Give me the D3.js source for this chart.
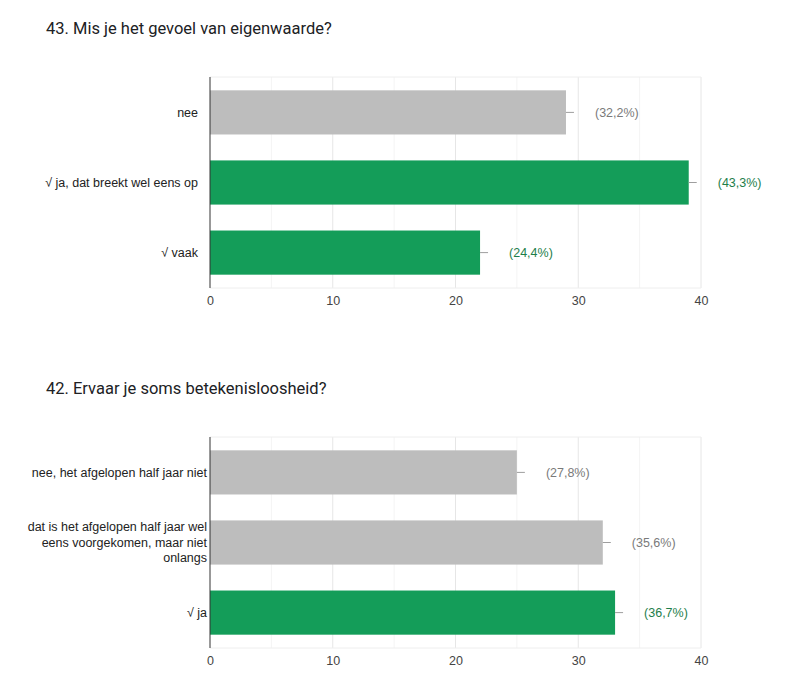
<!DOCTYPE html>
<html>
<head>
<meta charset="utf-8">
<script src="https://cdnjs.cloudflare.com/ajax/libs/d3/7.8.5/d3.min.js"></script>
<style>
  body { margin: 0; background: #fff; }
  svg { display: block; }
</style>
</head>
<body>
<div id="chart"></div>
<script>
// chart 1 data
var titles1 = "43. Mis je het gevoel van eigenwaarde?";
var categories1 = ["nee", "\u221A ja, dat breekt wel eens op", "\u221A vaak"];
var values1 = [29, 39, 22];
var percents1 = ["(32,2%)", "(43,3%)", "(24,4%)"];
var correct1 = [false, true, true];

// chart 2 data
var titles2 = "42. Ervaar je soms betekenisloosheid?";
var categories2 = ["nee, het afgelopen half jaar niet",
  "dat is het afgelopen half jaar wel|eens voorgekomen, maar niet|onlangs",
  "\u221A ja"];
var values2 = [25, 32, 33];
var percents2 = ["(27,8%)", "(35,6%)", "(36,7%)"];
var correct2 = [false, false, true];

var majorTicks = [0, 10, 20, 30, 40];
var minorTicks = [5, 15, 25, 35];

var width = 802, height = 691;
var svg = d3.select("#chart").append("svg")
  .attr("width", width)
  .attr("height", height);

drawChart(0, 198, titles1, categories1, values1, percents1, correct1);
drawChart(360, 207, titles2, categories2, values2, percents2, correct2);

/**
 * draw one horizontal bar chart, offset vertically by top
 */
function drawChart(top, labelX, title, cats, vals, pcts, correct) {
  var g = svg.append("g").attr("transform", "translate(0," + top + ")");
  var plotTop = 77, plotBottom = 288;

  g.append("text")
    .attr("x", 46)
    .attr("y", 34)
    .attr("font-family", "Roboto, sans-serif")
    .attr("font-size", 16.5)
    .attr("fill", "#202124")
    .text(title);

  var x = d3.scaleLinear().domain([0, 40]).range([210, 701]);
  var y = d3.scaleBand()
    .domain(cats)
    .range([plotTop, plotBottom])
    .paddingInner(0.37)
    .paddingOuter(0.19);

  // minor grid
  g.selectAll(".minor").data(minorTicks).enter().append("line")
    .attr("x1", function(d) { return x(d); })
    .attr("x2", function(d) { return x(d); })
    .attr("y1", plotTop).attr("y2", plotBottom)
    .attr("stroke", "#f4f4f4");

  // major grid
  g.selectAll(".major").data(majorTicks.slice(1)).enter().append("line")
    .attr("x1", function(d) { return x(d); })
    .attr("x2", function(d) { return x(d); })
    .attr("y1", plotTop).attr("y2", plotBottom)
    .attr("stroke", "#e6e6e6");

  // top + bottom border
  g.append("line").attr("x1", x(0)).attr("x2", x(40))
    .attr("y1", plotTop).attr("y2", plotTop).attr("stroke", "#eeeeee");
  g.append("line").attr("x1", x(0)).attr("x2", x(40))
    .attr("y1", plotBottom).attr("y2", plotBottom).attr("stroke", "#eeeeee");

  // bars
  g.selectAll("rect.bar").data(vals).enter().append("rect")
    .attr("class", "bar")
    .attr("x", x(0))
    .attr("y", function(d, i) { return y(cats[i]); })
    .attr("width", function(d) { return x(d) - x(0); })
    .attr("height", y.bandwidth())
    .attr("fill", function(d, i) { return correct[i] ? "#149d59" : "#bdbdbd"; });

  // small leader line + percent label
  g.selectAll("line.lead").data(vals).enter().append("line")
    .attr("x1", function(d) { return x(d); })
    .attr("x2", function(d) { return x(d) + 8; })
    .attr("y1", function(d, i) { return y(cats[i]) + y.bandwidth() / 2; })
    .attr("y2", function(d, i) { return y(cats[i]) + y.bandwidth() / 2; })
    .attr("stroke", "#9e9e9e");

  g.selectAll("text.pct").data(vals).enter().append("text")
    .attr("x", function(d) { return x(d) + 29; })
    .attr("y", function(d, i) { return y(cats[i]) + y.bandwidth() / 2; })
    .attr("dy", "0.35em")
    .attr("font-family", "Liberation Sans, Arial, sans-serif")
    .attr("font-size", 12.5)
    .attr("fill", function(d, i) { return correct[i] ? "#1e7e4a" : "#7a7a7a"; })
    .text(function(d, i) { return pcts[i]; });

  // category labels (multi-line via |)
  cats.forEach(function(c) {
    var lines = c.split("|");
    var cy = y(c) + y.bandwidth() / 2;
    var t = g.append("text")
      .attr("text-anchor", "end")
      .attr("font-family", "Liberation Sans, Arial, sans-serif")
      .attr("font-size", 12.5)
      .attr("fill", "#222");
    lines.forEach(function(l, i) {
      t.append("tspan")
        .attr("x", labelX)
        .attr("y", cy + (i - (lines.length - 1) / 2) * 15.5)
        .attr("dy", "0.35em")
        .text(l);
    });
  });

  // x axis tick labels
  var axis = d3.axisBottom(x).tickValues(majorTicks).tickSize(0).tickPadding(8);
  var ax = g.append("g")
    .attr("transform", "translate(0," + plotBottom + ")")
    .call(axis);
  ax.select(".domain").remove();
  ax.selectAll("text")
    .attr("font-family", "Liberation Sans, Arial, sans-serif")
    .attr("font-size", 12.5)
    .attr("fill", "#444");

  // left axis line
  g.append("line")
    .attr("x1", x(0)).attr("x2", x(0))
    .attr("y1", plotTop).attr("y2", plotBottom)
    .attr("stroke", "#333");
}
</script>
</body>
</html>
